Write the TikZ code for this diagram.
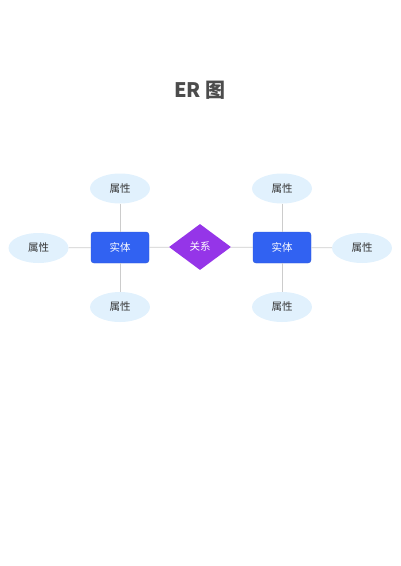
\documentclass[tikz,border=0pt]{standalone}
\usepackage{fontspec}
\setmainfont{Noto Sans CJK SC}
\usetikzlibrary{shapes.geometric}
\definecolor{entblue}{HTML}{3162F2}
\definecolor{entedge}{HTML}{2A55D8}
\definecolor{relpurple}{HTML}{9535E8}
\definecolor{attfill}{HTML}{E1F1FD}
\definecolor{linkgray}{HTML}{CCCCCC}
\definecolor{txtgray}{HTML}{333333}

\begin{document}
\begin{tikzpicture}[x=1pt,y=-1pt,
   entity/.style={draw=entedge,fill=entblue,rounded corners=3pt,minimum width=58pt,
     minimum height=31pt,inner sep=0pt,text=white,font=\fontsize{10.5}{12}\selectfont},
   relation/.style={diamond,fill=relpurple,minimum width=62pt,minimum height=46pt,
     inner sep=0pt,text=white,font=\fontsize{10.5}{12}\selectfont},
   attrib/.style={ellipse,fill=attfill,minimum width=60pt,minimum height=30pt,
     inner sep=0pt,text=txtgray,font=\fontsize{10.5}{12}\selectfont},
   link/.style={draw=linkgray,line width=0.8pt}]
   \useasboundingbox (0,0) rectangle (400,566);
   \node[text=black!70,font=\fontsize{20}{24}\selectfont\bfseries] (title) at (200,90) {ER 图};
   % left side
   \node[entity] (entA) at (120,247.5) {实体};
   \node[attrib] (attAt) at (120,188.5) {属性};
   \node[attrib] (attAl) at (38.5,248) {属性};
   \node[attrib] (attAb) at (120,307) {属性};
   % relation
   \node[relation] (rel) at (200,247) {关系};
   % right side
   \node[entity] (entB) at (282,247.5) {实体};
   \node[attrib] (attBt) at (282,188.5) {属性};
   \node[attrib] (attBr) at (362,248) {属性};
   \node[attrib] (attBb) at (282,307) {属性};
   % links
   \draw[link] (attAt) -- (entA);
   \draw[link] (attAl) -- (entA);
   \draw[link] (attAb) -- (entA);
   \draw[link] (entA) -- (rel);
   \draw[link] (rel) -- (entB);
   \draw[link] (attBt) -- (entB);
   \draw[link] (attBr) -- (entB);
   \draw[link] (attBb) -- (entB);
\end{tikzpicture}
\end{document}
